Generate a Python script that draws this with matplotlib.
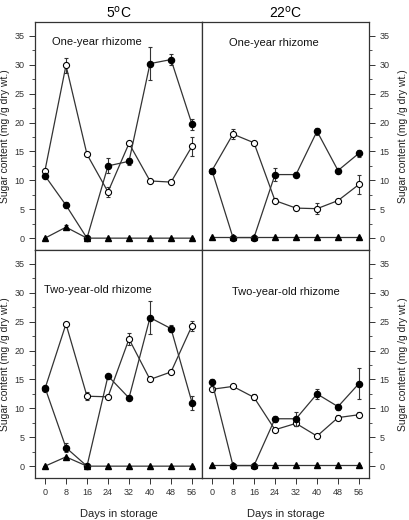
import matplotlib
matplotlib.use("Agg")
import matplotlib.pyplot as plt
from matplotlib.ticker import MultipleLocator

plt.rcParams['font.family'] = ['Liberation Sans', 'DejaVu Sans']

days = [0, 8, 16, 24, 32, 40, 48, 56]
x_ticks = [0, 8, 16, 24, 32, 40, 48, 56]
y_ticks = [0, 5, 10, 15, 20, 25, 30, 35]

col_titles = ["5$^{\\rm o}$C", "22$^{\\rm o}$C"]
row_labels = ["One-year rhizome", "Two-year-old rhizome"]
ylabel = "Sugar content (mg /g dry wt.)"
xlabel = "Days in storage"

# 5C one-year
filled_5_1 = [10.8, 5.7, 0.0, 12.5, 13.3, 30.2, 30.9, 19.7]
filled_5_1_err = [0.2, 0.5, 0.0, 1.3, 0.6, 2.9, 1.0, 1.0]
open_5_1 = [11.7, 29.9, 14.5, 8.0, 16.4, 9.9, 9.7, 15.9]
open_5_1_err = [0.2, 1.3, 0.3, 0.9, 0.2, 0.2, 0.4, 1.6]
tri_5_1 = [0.0, 1.9, 0.0, 0.0, 0.0, 0.0, 0.0, 0.0]
tri_5_1_err = [0.0, 0.4, 0.0, 0.0, 0.0, 0.0, 0.0, 0.0]

# 22C one-year
filled_22_1 = [11.7, 0.1, 0.1, 11.0, 11.0, 18.5, 11.7, 14.7]
filled_22_1_err = [0.2, 0.0, 0.0, 1.1, 0.4, 0.6, 0.2, 0.6]
open_22_1 = [11.7, 18.0, 16.5, 6.5, 5.2, 5.1, 6.5, 9.3]
open_22_1_err = [0.2, 0.8, 0.2, 0.4, 0.2, 1.0, 0.2, 1.7]
tri_22_1 = [0.2, 0.2, 0.2, 0.2, 0.2, 0.2, 0.2, 0.2]
tri_22_1_err = [0.0] * 8

# 5C two-year
filled_5_2 = [13.6, 3.2, 0.0, 15.6, 11.8, 25.7, 23.8, 11.0]
filled_5_2_err = [0.3, 0.8, 0.0, 0.2, 0.2, 2.8, 0.6, 1.2]
open_5_2 = [13.4, 24.6, 12.1, 12.0, 22.0, 15.0, 16.3, 24.3]
open_5_2_err = [0.2, 0.2, 0.7, 0.2, 1.1, 0.2, 0.4, 0.9]
tri_5_2 = [0.0, 1.6, 0.0, 0.0, 0.0, 0.0, 0.0, 0.0]
tri_5_2_err = [0.0] * 8

# 22C two-year
filled_22_2 = [14.6, 0.1, 0.1, 8.2, 8.2, 12.5, 10.3, 14.3]
filled_22_2_err = [0.4, 0.0, 0.0, 0.5, 1.2, 0.8, 0.5, 2.65]
open_22_2 = [13.3, 13.8, 11.9, 6.3, 7.4, 5.2, 8.4, 8.9]
open_22_2_err = [0.2, 0.2, 0.5, 0.3, 0.5, 0.2, 0.5, 0.4]
tri_22_2 = [0.2, 0.2, 0.2, 0.2, 0.2, 0.2, 0.2, 0.2]
tri_22_2_err = [0.0] * 8

panels = [
    [(filled_5_1, filled_5_1_err, open_5_1, open_5_1_err, tri_5_1, tri_5_1_err),
     (filled_22_1, filled_22_1_err, open_22_1, open_22_1_err, tri_22_1, tri_22_1_err)],
    [(filled_5_2, filled_5_2_err, open_5_2, open_5_2_err, tri_5_2, tri_5_2_err),
     (filled_22_2, filled_22_2_err, open_22_2, open_22_2_err, tri_22_2, tri_22_2_err)],
]

W, H = 410, 520
fig = plt.figure(figsize=(W / 100, H / 100), dpi=100)

lefts = [35, 202]
tops = [22, 250]
pw, ph = 167, 228
line_c = '#333333'

label_pos = [[(52, 42), (229, 43)], [(44, 290), (232, 292)]]

for r in range(2):
    for c in range(2):
        ax = fig.add_axes([lefts[c] / W, 1 - (tops[r] + ph) / H, pw / W, ph / H])
        f, fe, o, oe, t, te = panels[r][c]
        ekw = dict(elinewidth=0.8, capsize=1.6, capthick=0.8, ecolor=line_c)
        ax.errorbar(days, o, yerr=oe, color=line_c, lw=0.9, marker='o', ms=4.4,
                    mfc='white', mec='black', mew=0.8, zorder=3, **ekw)
        ax.errorbar(days, f, yerr=fe, color=line_c, lw=0.9, marker='o', ms=4.4,
                    mfc='black', mec='black', zorder=4, **ekw)
        ax.errorbar(days, t, yerr=te, color=line_c, lw=0.9, marker='^', ms=3.8,
                    mfc='black', mec='black', zorder=5, **ekw)
        ax.set_xlim(-3.8, 59.8)
        ax.set_ylim(-2.05, 37.4)
        ax.set_xticks(x_ticks)
        ax.set_yticks(y_ticks)
        ax.yaxis.set_minor_locator(MultipleLocator(2.5))
        ax.tick_params(axis='both', which='major', direction='out', length=4,
                       width=0.7, labelsize=6.5, colors='#333333', labelcolor='#333333')
        ax.tick_params(axis='y', which='minor', direction='out', length=2.2, width=0.6,
                       colors='#333333')
        for s in ax.spines.values():
            s.set_linewidth(0.9)
            s.set_color('#333333')
        if r == 0:
            ax.tick_params(axis='x', labelbottom=False)
            ax.set_title(col_titles[c], fontsize=10, pad=3)
        else:
            ax.set_xlabel(xlabel, fontsize=8, labelpad=8, color='#222222')
        if c == 0:
            ax.set_ylabel(ylabel, fontsize=7.5, labelpad=3, color='#222222')
        else:
            ax.yaxis.tick_right()
            ax.yaxis.set_label_position('right')
            ax.tick_params(axis='y', which='both', left=False, right=True)
            ax.set_ylabel(ylabel, fontsize=7.5, labelpad=6, color='#222222')
        lx, ly = label_pos[r][c]
        fig.text(lx / W, 1 - ly / H, row_labels[r], fontsize=8, va='center', ha='left',
                 color='#111111')

fig.savefig("out.png", dpi=100)
